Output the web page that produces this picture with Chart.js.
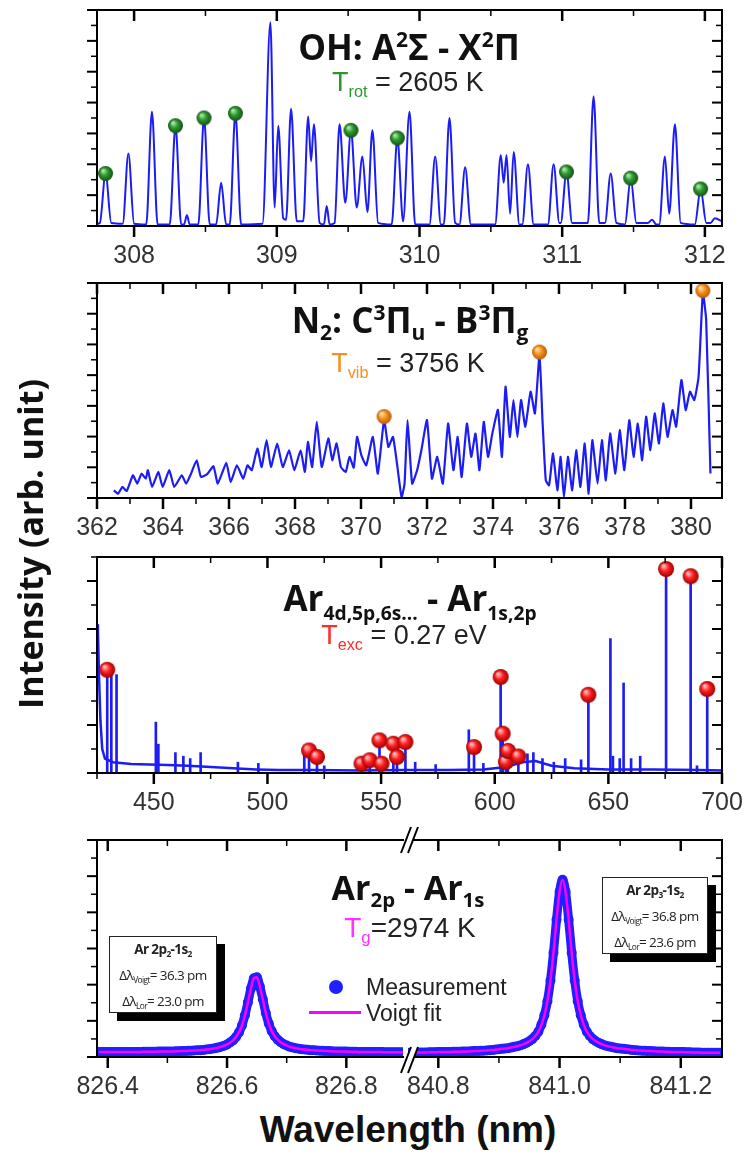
<!DOCTYPE html>
<html>
<head>
<meta charset="utf-8">
<script src="https://cdn.jsdelivr.net/npm/chart.js@4.4.1/dist/chart.umd.min.js"></script>
<style>
  html, body { margin: 0; padding: 0; background: #fff; }
  #page { position: relative; width: 744px; height: 1165px; overflow: hidden; background: #fff; }
  canvas { position: absolute; }
  .lbl { position: absolute; width: 400px; height: 40px; line-height: 40px; text-align: center; white-space: nowrap; }
  .ttl { font-family: "Open Sans", sans-serif; font-weight: 700; font-size: 35px; color: #111; }
  .val { font-family: "Liberation Sans", Arial, sans-serif; font-size: 27px; color: #222; }
  .sup { font-size: 0.6em; position: relative; top: -0.6em; }
  .sub { font-size: 0.6em; position: relative; top: 0.35em; }
  .box { position: absolute; border: 1.5px solid #222; background: #fff; box-shadow: 8px 8px 0 #000;
         font-family: "Open Sans", sans-serif; font-size: 13.5px; color: #222; text-align: center; line-height: 24px;
         letter-spacing: -0.6px; white-space: nowrap; }
  .box .sub { font-size: 0.62em; top: 0.3em; }
</style>
</head>
<body>
<div id="page">
  <canvas id="c1" width="744" height="276" style="left:0;top:0"></canvas>
  <canvas id="c2" width="744" height="277" style="left:0;top:271px"></canvas>
  <canvas id="c3" width="744" height="278" style="left:0;top:545px"></canvas>
  <canvas id="c4a" width="408" height="287" style="left:0;top:820px"></canvas>
  <canvas id="c4b" width="364" height="287" style="left:380px;top:820px"></canvas>

  <div class="lbl ttl" style="left:209px;top:27px">OH: A<span class="sup">2</span>Σ - X<span class="sup">2</span>Π</div>
  <div class="lbl val" style="left:208px;top:62px"><span style="color:#2e962e">T<span class="sub">rot</span></span> = 2605 K</div>

  <div class="lbl ttl" style="left:210px;top:300px">N<span class="sub">2</span>: C<span class="sup">3</span>Π<span class="sub">u</span> - B<span class="sup">3</span>Π<span class="sub">g</span></div>
  <div class="lbl val" style="left:208px;top:343px"><span style="color:#f5901e">T<span class="sub">vib</span></span> = 3756 K</div>

  <div class="lbl ttl" style="left:210px;top:578px;font-size:35px">Ar<span class="sub" style="font-size:0.55em;top:0.45em">4d,5p,6s...</span> - Ar<span class="sub" style="font-size:0.55em;top:0.45em">1s,2p</span></div>
  <div class="lbl val" style="left:204px;top:615px"><span style="color:#ff2a2a">T<span class="sub">exc</span></span> = 0.27 eV</div>

  <div class="lbl ttl" style="left:208px;top:867px;font-size:34px">Ar<span class="sub">2p</span> - Ar<span class="sub">1s</span></div>
  <div class="lbl val" style="left:210px;top:908px;font-size:28px"><span style="color:#ff33ff">T<span class="sub">g</span></span>=2974 K</div>

  <div style="position:absolute;left:329px;top:980px;width:14px;height:14px;border-radius:50%;background:#2020ff"></div>
  <div class="val" style="position:absolute;left:366px;top:972px;font-size:23px;line-height:30px">Measurement</div>
  <div style="position:absolute;left:309px;top:1011px;width:52px;height:3px;background:#ff00ff"></div>
  <div class="val" style="position:absolute;left:366px;top:998px;font-size:23px;line-height:30px">Voigt fit</div>

  <div class="box" style="left:109px;top:936px;width:106px;height:75px">
    <b>Ar 2p<span class="sub">2</span>-1s<span class="sub">2</span></b><br>
    Δλ<span class="sub">Voigt</span>= 36.3 pm<br>
    Δλ<span class="sub">Lor</span>= 23.0 pm
  </div>
  <div class="box" style="left:602px;top:877px;width:104px;height:75px">
    <b>Ar 2p<span class="sub">3</span>-1s<span class="sub">2</span></b><br>
    Δλ<span class="sub">Voigt</span>= 36.8 pm<br>
    Δλ<span class="sub">Lor</span>= 23.6 pm
  </div>

  <div class="lbl ttl" style="left:-170px;top:524px;font-size:34px;transform:rotate(-90deg)">Intensity (arb. unit)</div>
  <div class="lbl" style="left:208px;top:1110px;font-family:'Liberation Sans',Arial,sans-serif;font-weight:700;font-size:37px;color:#111">Wavelength (nm)</div>
</div>

<script>
// ---- OH A-X band (nm, arb. units 0..14) ----
const ohSpectrum = [
  [307.74,0.15],[307.76,0.2],[307.80,3.4],[307.84,0.2],[307.92,0.15],[307.96,4.7],[308.00,0.15],
  [308.085,0.1],[308.125,7.4],[308.165,0.1],[308.25,0.1],[308.29,6.5],[308.33,0.1],[308.35,0.1],
  [308.37,0.7],[308.39,0.1],[308.45,0.1],[308.49,7.0],[308.53,0.1],[308.575,0.1],[308.61,2.8],
  [308.645,0.1],[308.67,0.1],[308.71,7.3],[308.75,0.1],[308.90,0.15],[308.955,13.2],[308.985,1.2],
  [309.01,6.5],[309.045,0.5],[309.065,0.4],[309.10,7.6],[309.14,0.3],[309.185,0.3],[309.22,7.1],
  [309.24,4.2],[309.26,6.6],[309.30,0.2],[309.33,0.1],[309.35,1.3],[309.37,0.1],[309.405,0.2],
  [309.44,6.6],[309.48,1.5],[309.52,6.2],[309.56,1.2],[309.60,4.5],[309.635,0.9],[309.67,6.2],
  [309.71,0.2],[309.805,0.1],[309.845,5.7],[309.885,0.3],[309.93,7.4],[309.97,0.1],[310.07,0.1],
  [310.11,4.5],[310.15,0.1],[310.17,0.1],[310.21,7.0],[310.25,0.2],[310.28,0.1],[310.32,3.8],
  [310.36,0.1],[310.53,0.1],[310.57,4.6],[310.59,2.8],[310.61,4.6],[310.635,0.8],[310.66,4.8],
  [310.70,0.1],[310.72,0.1],[310.76,4.0],[310.80,0.1],[310.90,0.1],[310.94,4.0],[310.98,0.2],
  [310.99,0.2],[311.03,3.5],[311.07,0.2],[311.18,0.2],[311.22,8.4],[311.26,0.2],[311.30,0.2],
  [311.34,3.4],[311.38,0.2],[311.44,0.1],[311.48,3.1],[311.52,0.2],[311.60,0.2],[311.63,0.4],
  [311.66,0.1],[311.68,0.1],[311.72,4.5],[311.75,0.8],[311.79,6.6],[311.83,0.2],[311.93,0.1],
  [311.97,2.4],[312.01,0.2],[312.04,0.2],[312.07,0.5],[312.12,0.3]
];
const ohLines = [[307.80,3.4],[308.29,6.5],[308.49,7.0],[308.71,7.3],[309.52,6.2],[309.845,5.7],[311.03,3.5],[311.48,3.1],[311.97,2.4]];
const ohTicks = [308, 309, 310, 311, 312];
const ohMinor = [308.5, 309.5, 310.5, 311.5];

// ---- N2 C-B band ----
const n2Spectrum = [
  [362.51,0.50],[362.64,0.28],[362.77,0.72],[362.90,0.46],[363.09,1.48],[363.22,0.94],[363.35,1.59],
  [363.48,1.26],[363.54,1.81],[363.67,0.72],[363.86,1.70],[363.99,0.72],[364.19,1.81],[364.34,0.72],
  [364.57,1.48],[364.70,0.94],[364.85,1.59],[365.02,2.46],[365.15,1.37],[365.34,1.55],[365.53,2.07],
  [365.66,0.94],[365.92,2.29],[366.05,1.04],[366.24,2.13],[366.43,1.26],[366.56,2.13],[366.69,1.81],
  [366.86,3.22],[366.99,2.02],[367.14,3.77],[367.27,2.02],[367.46,3.55],[367.63,2.02],[367.82,3.11],
  [367.98,1.81],[368.17,3.11],[368.30,1.70],[368.39,3.66],[368.52,2.02],[368.66,4.96],[368.81,2.02],
  [369.01,3.88],[369.13,2.46],[369.26,3.55],[369.39,2.02],[369.54,1.70],[369.65,2.68],[369.78,1.98],
  [369.88,3.98],[370.01,2.79],[370.16,2.13],[370.36,3.98],[370.51,1.59],[370.70,5.07],[370.83,3.33],
  [370.97,3.98],[371.13,1.59],[371.23,0.05],[371.32,0.94],[371.41,5.07],[371.55,0.94],[371.70,1.81],
  [371.83,3.11],[372.00,5.07],[372.15,1.26],[372.31,2.68],[372.48,0.94],[372.64,4.85],[372.80,1.81],
  [372.93,3.98],[373.05,1.37],[373.21,4.85],[373.34,2.68],[373.47,4.20],[373.59,1.81],[373.72,4.96],
  [373.85,2.68],[373.98,4.20],[374.15,5.73],[374.27,2.68],[374.38,7.25],[374.51,3.98],[374.62,6.38],
  [374.74,3.98],[374.85,6.38],[374.98,4.64],[375.14,6.92],[375.27,5.51],[375.41,9.32],[375.50,5.07],
  [375.60,1.15],[375.70,0.83],[375.82,2.90],[375.95,0.50],[376.05,2.68],[376.15,0.05],[376.27,2.68],
  [376.40,0.50],[376.52,3.11],[376.65,0.72],[376.78,3.55],[376.90,0.28],[377.01,3.77],[377.17,0.94],
  [377.30,3.77],[377.42,1.15],[377.55,4.20],[377.71,1.59],[377.84,4.42],[377.98,1.81],[378.13,5.07],
  [378.26,2.68],[378.39,4.85],[378.52,2.46],[378.64,5.29],[378.77,3.11],[378.90,5.51],[379.03,3.55],
  [379.16,6.16],[379.29,3.98],[379.44,5.73],[379.55,4.64],[379.71,7.68],[379.84,5.73],[379.97,6.92],
  [380.10,6.38],[380.23,7.90],[380.36,13.35],[380.46,11.6],[380.59,1.59]
];
const n2Heads = [[370.70,5.3],[375.41,9.5],[380.36,13.5]];
const n2Ticks = [362, 364, 366, 368, 370, 372, 374, 376, 378, 380];
const n2Minor = [363, 365, 367, 369, 371, 373, 375, 377, 379];

// ---- Ar I lines 425-700 nm ----
const arBase = [
  [425.0,6.2],[425.4,5.9],[425.9,4.0],[426.5,2.2],[427.3,1.0],[428.5,0.6],[432,0.45],[440,0.38],
  [448,0.35],[456,0.33],[465,0.3],[475,0.25],[485,0.2],[495,0.15],[505,0.12],[520,0.12],[540,0.1],
  [560,0.12],[580,0.12],[595,0.15],[605,0.25],[612,0.45],[618,0.5],[625,0.3],[635,0.2],[650,0.15],
  [670,0.15],[690,0.12],[700,0.1]
];
const arLines = [
  [429.5,4.3],[431.3,4.3],[433.6,4.1],[450.9,2.12],[452.0,1.2],[459.5,0.85],[463.0,0.7],[466.0,0.6],
  [470.6,0.85],[487.0,0.45],[496.0,0.4],[516.2,1.0],[518.3,0.94],[521.8,0.67],[525.0,0.3],[541.4,0.39],
  [545.0,0.53],[549.3,1.36],[550.2,0.39],[555.4,1.22],[557.0,0.67],[560.7,1.29],[565.0,0.45],[574.0,0.35],
  [588.6,1.8],[590.9,1.08],[595.0,0.4],[602.6,4.0],[603.5,1.64],[604.9,0.46],[605.8,0.92],[610.4,0.69],
  [614.4,0.8],[617.0,0.85],[621.0,0.6],[626.0,0.45],[631.0,0.6],[638.0,0.55],[641.2,3.26],[650.9,5.6],
  [652.0,0.7],[655.0,0.6],[656.7,3.75],[660.0,0.6],[664.0,0.7],[675.4,8.5],[686.2,8.2],[689.0,0.3],
  [693.5,3.5]
];
const arUsed = [
  [429.5,4.3],[518.3,0.94],[521.8,0.67],[541.4,0.39],[545.0,0.53],[549.3,1.36],[550.2,0.39],[555.4,1.22],
  [557.0,0.67],[560.7,1.29],[590.9,1.08],[602.6,4.0],[603.5,1.64],[604.9,0.46],[605.8,0.92],[610.4,0.69],
  [641.2,3.26],[675.4,8.5],[686.2,8.2],[693.5,3.5]
];
const arTicks = [450, 500, 550, 600, 650, 700];
const arMinor = [425, 475, 525, 575, 625, 675];

// ---- Ar 2p-1s line profiles (spectrometer grid) ----
const leftStart = 826.385, rightStart = 840.750, gridStep = 0.005;
const leftCounts = [
  0.27,0.27,0.27,0.27,0.27,0.27,0.27,0.27,0.28,0.28, 0.28,0.28,0.28,0.28,0.28,0.29,0.29,0.29,0.29,0.29,
  0.30,0.30,0.30,0.31,0.31,0.31,0.32,0.32,0.33,0.33, 0.34,0.35,0.36,0.37,0.38,0.39,0.41,0.43,0.46,0.49,
  0.52,0.57,0.62,0.69,0.80,0.92,1.11,1.36,1.74,2.31, 3.02,3.78,4.35,4.41,3.90,3.19,2.43,1.85,1.43,1.15,
  0.96,0.82,0.71,0.64,0.57,0.53,0.49,0.46,0.43,0.41, 0.40,0.38,0.37,0.36,0.35,0.34,0.33,0.33,0.32,0.31,
  0.31,0.30,0.30,0.30,0.29,0.29,0.29,0.28,0.28,0.28, 0.28,0.27,0.27,0.27,0.27,0.27,0.26,0.26,0.26,0.26,
  0.26,0.26,0.26
];
const rightCounts = [
  0.24,0.24,0.24,0.25,0.25,0.25,0.25,0.26,0.26,0.26, 0.27,0.27,0.27,0.28,0.28,0.29,0.29,0.29,0.30,0.31,
  0.31,0.32,0.33,0.33,0.34,0.35,0.36,0.38,0.39,0.41, 0.43,0.45,0.47,0.49,0.52,0.56,0.59,0.64,0.70,0.78,
  0.87,0.99,1.16,1.40,1.78,2.31,3.08,4.23,5.77,7.59, 9.13,9.80,9.13,7.59,5.77,4.23,3.08,2.31,1.78,1.40,
  1.16,0.99,0.87,0.78,0.70,0.64,0.59,0.56,0.52,0.49, 0.47,0.45,0.43,0.41,0.39,0.38,0.36,0.35,0.34,0.33,
  0.33,0.32,0.31,0.31,0.30,0.29,0.29,0.28,0.28,0.27, 0.27,0.27,0.26,0.26,0.25,0.25,0.25,0.24,0.24,0.24,
  0.23,0.23,0.23,0.23
];
const leftTicks = [826.4, 826.6, 826.8], leftMinor = [826.5, 826.7];
const rightTicks = [840.8, 841.0, 841.2], rightMinor = [840.9, 841.1];

const BLUE = '#1c1cf5';
const tickFont = { family: '"Liberation Sans", Arial, sans-serif', size: 25 };
const pts = arr => arr.map(p => ({ x: p[0], y: p[1] }));
const grid = (start, vals) => vals.map((v, i) => ({ x: +(start + i * gridStep).toFixed(3), y: v }));

function sphere(r, light, mid, dark) {
  const cv = document.createElement('canvas');
  cv.width = cv.height = 2 * r + 2;
  const g = cv.getContext('2d');
  const c = r + 1;
  const grad = g.createRadialGradient(c - r * 0.35, c - r * 0.4, r * 0.1, c, c, r);
  grad.addColorStop(0, light);
  grad.addColorStop(0.45, mid);
  grad.addColorStop(1, dark);
  g.fillStyle = grad;
  g.beginPath(); g.arc(c, c, r, 0, Math.PI * 2); g.fill();
  return cv;
}
const greenBall = sphere(7.5, '#a8eaa8', '#2f9a2f', '#145214');
const orangeBall = sphere(7.5, '#ffe0b0', '#f7941d', '#b85a08');
const redBall = sphere(8, '#ffc0c0', '#ff2222', '#a00000');

// box, ticks in/out like the original plotting program
const framePlugin = {
  id: 'frame',
  afterDatasetsDraw(chart, args, o) {
    const { ctx, chartArea: a } = chart;
    const xs = chart.scales.x, ys = chart.scales.y;
    ctx.save();
    ctx.strokeStyle = '#000';
    const seg = (x1, y1, x2, y2, w) => {
      ctx.lineWidth = w; ctx.beginPath(); ctx.moveTo(x1, y1); ctx.lineTo(x2, y2); ctx.stroke();
    };
    for (let k = 0; k * o.yStep <= ys.max + 1e-9; k++) {
      const major = k % 2 === 0;
      const len = major ? 10 : 6, w = major ? 2 : 1.5;
      const py = ys.getPixelForValue(k * o.yStep);
      if (o.sides.includes('l')) seg(a.left - len, py, a.left, py, w);
      if (o.sides.includes('r')) seg(a.right - len, py, a.right, py, w);
    }
    const xt = o.major.map(v => [v, true]).concat(o.minor.map(v => [v, false]));
    xt.forEach(([v, major]) => {
      const len = major ? 11 : 6, w = major ? 2.5 : 1.5;
      const px = xs.getPixelForValue(v);
      seg(px, a.top, px, a.top + len, w);
      seg(px, a.bottom, px, a.bottom + len, w);
    });
    ctx.lineWidth = 2;
    ctx.lineCap = 'square';
    ctx.beginPath();
    ctx.moveTo(a.left, a.top); ctx.lineTo(a.right, a.top);
    ctx.moveTo(a.left, a.bottom); ctx.lineTo(a.right, a.bottom);
    if (o.sides.includes('l')) { ctx.moveTo(a.left, a.top); ctx.lineTo(a.left, a.bottom); }
    if (o.sides.includes('r')) { ctx.moveTo(a.right, a.top); ctx.lineTo(a.right, a.bottom); }
    ctx.stroke();
    ctx.restore();
  }
};

// the "//" marks of the broken wavelength axis
const breakPlugin = {
  id: 'axisBreak',
  afterDraw(chart) {
    const { ctx, chartArea: a } = chart;
    const x0 = a.left + 2;
    [a.top, a.bottom + 3].forEach(yc => {
      ctx.save();
      ctx.fillStyle = '#fff';
      ctx.beginPath();
      ctx.moveTo(x0 - 9, yc + 13); ctx.lineTo(x0 + 1, yc - 13);
      ctx.lineTo(x0 + 8, yc - 13); ctx.lineTo(x0 - 2, yc + 13);
      ctx.closePath(); ctx.fill();
      ctx.strokeStyle = '#000'; ctx.lineWidth = 2;
      ctx.beginPath();
      ctx.moveTo(x0 - 9, yc + 13); ctx.lineTo(x0 + 1, yc - 13);
      ctx.moveTo(x0 - 2, yc + 13); ctx.lineTo(x0 + 8, yc - 13);
      ctx.stroke();
      ctx.restore();
    });
  }
};

function panel(id, c) {
  return new Chart(document.getElementById(id), {
    type: 'line',
    data: { datasets: c.datasets },
    options: {
      responsive: false,
      animation: false,
      events: [],
      layout: { padding: c.padding },
      plugins: { legend: { display: false }, tooltip: { enabled: false }, frame: c.frame },
      scales: {
        x: {
          type: 'linear', min: c.xMin, max: c.xMax, offset: false,
          grid: { display: false, drawTicks: false }, border: { display: false },
          ticks: { font: tickFont, color: '#333', padding: 15, maxRotation: 0, autoSkip: false,
                   callback: c.fmt || (v => String(v)) },
          afterBuildTicks: s => { s.ticks = c.frame.major.map(v => ({ value: v })); },
          afterFit: s => { s.height = 50; s.paddingLeft = 0; s.paddingRight = 0; }
        },
        y: { display: false, min: 0, max: c.yMax }
      }
    },
    plugins: [framePlugin].concat(c.extra || [])
  });
}

panel('c1', {
  xMin: 307.74, xMax: 312.12, yMax: 14,
  padding: { left: 97, right: 22, top: 10, bottom: 0 },
  frame: { sides: 'lr', yStep: 1, major: ohTicks, minor: ohMinor },
  datasets: [
    { data: pts(ohLines), showLine: false, pointStyle: greenBall, pointRadius: 7, clip: false, order: 0 },
    { data: pts(ohSpectrum), borderColor: BLUE, borderWidth: 2, pointRadius: 0,
      cubicInterpolationMode: 'monotone', order: 1 }
  ]
});

panel('c2', {
  xMin: 362, xMax: 380.94, yMax: 14,
  padding: { left: 97, right: 22, top: 12, bottom: 0 },
  frame: { sides: 'lr', yStep: 1, major: n2Ticks, minor: n2Minor },
  datasets: [
    { data: pts(n2Heads), showLine: false, pointStyle: orangeBall, pointRadius: 7, clip: false, order: 0 },
    { data: pts(n2Spectrum), borderColor: BLUE, borderWidth: 2.2, pointRadius: 0, tension: 0.15,
      borderJoinStyle: 'round', order: 1 }
  ]
});

panel('c3', {
  xMin: 425, xMax: 700, yMax: 9,
  padding: { left: 97, right: 22, top: 12, bottom: 0 },
  frame: { sides: 'lr', yStep: 1, major: arTicks, minor: arMinor },
  datasets: [
    { data: pts(arUsed), showLine: false, pointStyle: redBall, pointRadius: 8, clip: false, order: 0 },
    { type: 'bar', data: pts(arLines), backgroundColor: BLUE, barThickness: 2, grouped: false, order: 1 },
    { data: pts(arBase), borderColor: BLUE, borderWidth: 2.5, pointRadius: 0, order: 2 }
  ]
});

panel('c4a', {
  xMin: 826.382, xMax: 826.895, yMax: 12,
  padding: { left: 97, right: 0, top: 20, bottom: 0 },
  frame: { sides: 'l', yStep: 1, major: leftTicks, minor: leftMinor },
  fmt: v => v.toFixed(1),
  datasets: [
    { data: grid(leftStart, leftCounts), borderColor: '#ff00ff', borderWidth: 2.5, pointRadius: 0,
      cubicInterpolationMode: 'monotone', order: 0 },
    { data: grid(leftStart, leftCounts), borderColor: '#2020ff', borderWidth: 9, pointRadius: 5,
      pointBackgroundColor: '#2020ff', pointBorderWidth: 0, borderJoinStyle: 'round',
      cubicInterpolationMode: 'monotone', clip: { left: 0, right: 0, top: false, bottom: false }, order: 1 }
  ]
});

panel('c4b', {
  xMin: 840.750, xMax: 841.268, yMax: 12,
  padding: { left: 28, right: 22, top: 20, bottom: 0 },
  frame: { sides: 'r', yStep: 1, major: rightTicks, minor: rightMinor },
  fmt: v => v.toFixed(1),
  extra: [breakPlugin],
  datasets: [
    { data: grid(rightStart, rightCounts), borderColor: '#ff00ff', borderWidth: 2.5, pointRadius: 0,
      cubicInterpolationMode: 'monotone', clip: { left: 0, right: 0, top: false, bottom: false }, order: 0 },
    { data: grid(rightStart, rightCounts), borderColor: '#2020ff', borderWidth: 9, pointRadius: 5,
      pointBackgroundColor: '#2020ff', pointBorderWidth: 0, borderJoinStyle: 'round',
      cubicInterpolationMode: 'monotone', clip: { left: 0, right: 0, top: false, bottom: false }, order: 1 }
  ]
});
</script>
</body>
</html>
